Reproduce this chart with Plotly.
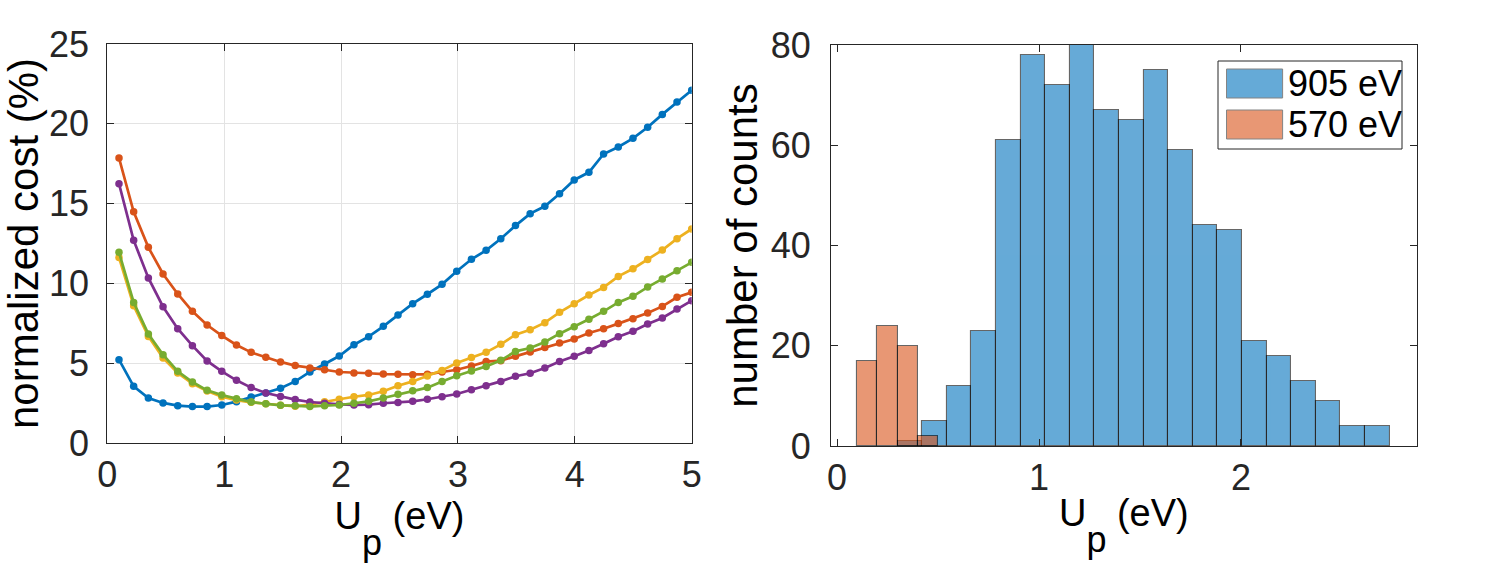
import numpy as np
import plotly.graph_objects as go

# ---------------- data: left panel (normalized cost vs Up) ----------------
up = np.linspace(0.1, 5.0, 40)

cost_blue = [5.22, 3.55, 2.82, 2.51, 2.34, 2.28, 2.28, 2.38, 2.59, 2.88,
             3.13, 3.43, 3.86, 4.45, 4.95, 5.45, 6.16, 6.66, 7.31, 8.02,
             8.73, 9.32, 9.94, 10.76, 11.51, 12.07, 12.80, 13.62, 14.37, 14.83,
             15.62, 16.48, 16.96, 18.11, 18.55, 19.09, 19.78, 20.59, 21.37, 22.10]
cost_orange = [17.86, 14.49, 12.26, 10.59, 9.34, 8.25, 7.39, 6.73, 6.14, 5.68,
               5.37, 5.08, 4.85, 4.70, 4.59, 4.45, 4.39, 4.37, 4.32, 4.30,
               4.28, 4.30, 4.45, 4.59, 4.82, 5.10, 5.16, 5.43, 5.70, 5.99,
               6.27, 6.52, 6.89, 7.16, 7.48, 7.79, 8.15, 8.56, 9.13, 9.44]
cost_yellow = [11.63, 8.60, 6.68, 5.33, 4.39, 3.72, 3.26, 2.90, 2.69, 2.55,
               2.46, 2.36, 2.30, 2.40, 2.59, 2.74, 2.90, 3.01, 3.24, 3.59,
               3.86, 4.20, 4.55, 5.01, 5.35, 5.68, 6.18, 6.79, 7.10, 7.54,
               8.19, 8.73, 9.27, 9.75, 10.44, 10.92, 11.49, 12.09, 12.80, 13.41]
cost_purple = [16.25, 12.70, 10.34, 8.54, 7.16, 6.10, 5.14, 4.49, 3.93, 3.47,
               3.13, 2.92, 2.72, 2.57, 2.49, 2.42, 2.38, 2.40, 2.49, 2.53,
               2.61, 2.74, 2.90, 3.07, 3.34, 3.59, 3.86, 4.18, 4.37, 4.70,
               5.10, 5.43, 5.79, 6.22, 6.66, 7.00, 7.46, 7.83, 8.40, 8.92]
cost_green = [11.95, 8.81, 6.83, 5.53, 4.49, 3.82, 3.30, 3.01, 2.78, 2.57,
              2.46, 2.36, 2.34, 2.28, 2.34, 2.38, 2.49, 2.61, 2.82, 3.05,
              3.28, 3.47, 3.86, 4.22, 4.51, 4.80, 5.18, 5.74, 5.95, 6.33,
              6.85, 7.29, 7.75, 8.25, 8.81, 9.19, 9.77, 10.28, 10.80, 11.32]

series = [cost_blue, cost_orange, cost_yellow, cost_purple, cost_green]
series_colors = ["#0072BD", "#D95319", "#EDB120", "#7E2F8E", "#77AC30"]

# ---------------- data: right panel (histograms) ----------------
counts_905 = [1, 5, 12, 23, 61, 78, 72, 80, 67, 65, 75, 59, 44, 43, 21, 18, 13, 9, 4, 4]
edge0_905, width_905 = 0.30, 0.1218
counts_570 = [17, 24, 20, 2]
edge0_570, width_570 = 0.10, 0.10

legend_labels = ["905 eV", "570 eV"]
hist_colors = ["#0072BD", "#D95319"]

FONT = "Liberation Sans, Arial, Helvetica, sans-serif"
AXC = "#262626"
XTITLE = "U<span style='font-size:36px;baseline-shift:-26px'>p</span> (eV)"

fig = go.Figure()

for ys, c in zip(series, series_colors):
    fig.add_trace(go.Scatter(x=up, y=ys, mode="lines+markers",
                             line=dict(color=c, width=2.7),
                             marker=dict(color=c, size=7.5),
                             showlegend=False, xaxis="x", yaxis="y"))

for counts, e0, w, c, name in [(counts_905, edge0_905, width_905, hist_colors[0], legend_labels[0]),
                               (counts_570, edge0_570, width_570, hist_colors[1], legend_labels[1])]:
    centers = e0 + w * (np.arange(len(counts)) + 0.5)
    fig.add_trace(go.Bar(x=centers, y=counts, width=w, name=name,
                         marker=dict(color=c, opacity=0.6,
                                     line=dict(color="black", width=1.1)),
                         showlegend=False, xaxis="x2", yaxis="y2"))

W, H = 1490, 571
def px(xp): return xp / W
def py(yp): return 1 - yp / H

axis_common = dict(showline=True, linecolor=AXC, linewidth=1, mirror="allticks",
                   ticks="inside", ticklen=7, tickcolor=AXC, zeroline=False,
                   automargin=False,
                   tickfont=dict(family=FONT, size=36, color=AXC))

xt = dict(text=XTITLE, font=dict(family=FONT, size=38, color="black"), standoff=2)

fig.update_layout(
    template="none",
    width=W, height=H, margin=dict(l=0, r=0, t=0, b=0, autoexpand=False),
    paper_bgcolor="white", plot_bgcolor="white",
    barmode="overlay", bargap=0,
    xaxis=dict(domain=[px(107.3), px(691.7)], range=[0, 5], tickvals=[0, 1, 2, 3, 4, 5],
               showgrid=True, gridcolor="#e3e3e3", gridwidth=1, anchor="y",
               ticklabelstandoff=0, title=xt, **axis_common),
    yaxis=dict(domain=[py(443), py(44)], range=[0, 25], tickvals=[0, 5, 10, 15, 20, 25],
               showgrid=True, gridcolor="#e3e3e3", gridwidth=1, anchor="x",
               ticklabelstandoff=10,
               title=dict(text="normalized cost (%)", font=dict(family=FONT, size=42, color="black"), standoff=4),
               **axis_common),
    xaxis2=dict(domain=[px(831), px(1416.7)], range=[-0.03, 2.87], tickvals=[0, 1, 2],
                showgrid=False, anchor="y2",
                ticklabelstandoff=0, title=xt, **axis_common),
    yaxis2=dict(domain=[py(446), py(45)], range=[0, 80], tickvals=[0, 20, 40, 60, 80],
                showgrid=False, anchor="x2",
                ticklabelstandoff=12,
                title=dict(text="number of counts", font=dict(family=FONT, size=42, color="black"), standoff=0),
                **axis_common),
)

# custom legend (box, swatches, labels)
fig.add_shape(type="rect", xref="paper", yref="paper",
              x0=px(1218), x1=px(1402), y0=py(149), y1=py(61),
              line=dict(color=AXC, width=1), fillcolor="white", layer="above")
sw_tops = [69, 110]
for i, (lab, c) in enumerate(zip(legend_labels, hist_colors)):
    t = sw_tops[i]
    fig.add_shape(type="rect", xref="paper", yref="paper",
                  x0=px(1226.5), x1=px(1282.6), y0=py(t + 29), y1=py(t),
                  line=dict(color="#333333", width=1), fillcolor=c, opacity=0.6, layer="above")
    fig.add_annotation(xref="paper", yref="paper", x=px(1286), y=py(t + 14.5),
                       text=lab, showarrow=False, xanchor="left", yanchor="middle",
                       font=dict(family=FONT, size=36, color="black"))

fig.write_html("out.html")
